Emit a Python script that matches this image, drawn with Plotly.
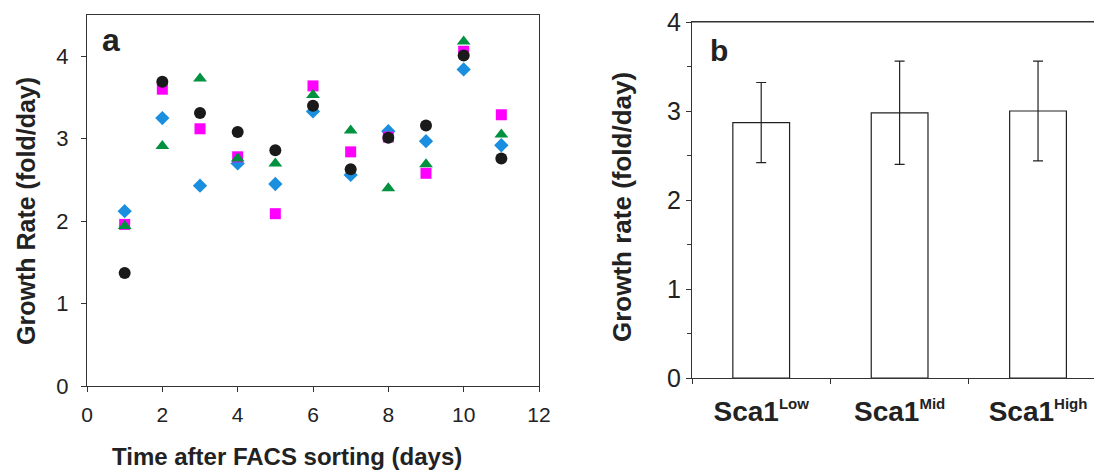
import plotly.graph_objects as go

# ---- Panel a data ----
days = [1, 2, 3, 4, 5, 6, 7, 8, 9, 10, 11]
series_diamond = [2.12, 3.25, 2.43, 2.70, 2.45, 3.33, 2.56, 3.09, 2.97, 3.84, 2.92]
series_square = [1.96, 3.60, 3.12, 2.78, 2.09, 3.64, 2.84, 3.02, 2.58, 4.06, 3.29]
series_triangle = [1.94, 2.91, 3.73, 2.76, 2.70, 3.53, 3.10, 2.40, 2.69, 4.18, 3.05]
series_circle = [1.37, 3.69, 3.31, 3.08, 2.86, 3.40, 2.63, 3.01, 3.16, 4.01, 2.76]

x_ticks_a = [0, 2, 4, 6, 8, 10, 12]
y_ticks_a = [0, 1, 2, 3, 4]

# ---- Panel b data ----
sup_style = "<sup><span style='font-size:15px'>{}</span></sup>"
categories = ["Sca1" + sup_style.format("Low"),
              "Sca1" + sup_style.format("Mid"),
              "Sca1" + sup_style.format("High")]
mean_rate = [2.87, 2.98, 3.00]
err_rate = [0.45, 0.58, 0.56]
y_ticks_b = [0, 1, 2, 3, 4]

W, H = 1102, 474
OFF = 8  # page body margin
FONT = "Liberation Sans, Arial, sans-serif"


def px_x(p):
    return (p - OFF) / W


def px_y(p):
    return 1 - (p - OFF) / H


fig = go.Figure()

for ys, sym, col, size in [
    (series_diamond, "diamond", "#1a8fe0", 11),
    (series_square, "square", "#ff00ff", 11),
    (series_triangle, "triangle-up", "#00923f", 12),
    (series_circle, "circle", "#1a1a1a", 12),
]:
    fig.add_trace(go.Scatter(
        x=days, y=ys, mode="markers", xaxis="x", yaxis="y",
        marker=dict(symbol=sym, color=col, size=size, line=dict(width=0)),
        showlegend=False,
    ))

fig.add_trace(go.Bar(
    x=categories, y=mean_rate, xaxis="x2", yaxis="y2", width=0.41,
    marker=dict(color="white", line=dict(color="#222", width=1.2)),
    error_y=dict(type="data", array=err_rate, visible=True, color="#222",
                 thickness=1.2, width=5),
    showlegend=False,
))

axis_common = dict(showgrid=False, zeroline=False, showline=True,
                   linecolor="#333", linewidth=1.2, ticks="outside",
                   tickcolor="#333", tickwidth=1.2, automargin=False,
                   ticklabeloverflow="allow")

fig.update_layout(
    width=W, height=H,
    margin=dict(l=0, r=0, t=0, b=0),
    paper_bgcolor="white", plot_bgcolor="white",
    font=dict(family=FONT, color="#222"),
    xaxis=dict(domain=[px_x(87), px_x(539)], range=[0, 12], tickvals=x_ticks_a,
               ticklen=5, mirror=True, tickfont=dict(size=21),
               ticklabelstandoff=5, anchor="y", **axis_common),
    yaxis=dict(domain=[px_y(386), px_y(15)], range=[0, 4.5], tickvals=y_ticks_a,
               ticklen=5, mirror=True, tickfont=dict(size=22),
               ticklabelstandoff=8, anchor="x", **axis_common),
    xaxis2=dict(domain=[px_x(692), 1.0], range=[-0.5, 2.52], type="category",
                tickson="boundaries", ticklen=5, mirror=True,
                tickfont=dict(size=28, family=FONT, weight="bold"),
                ticklabelstandoff=8, anchor="y2", **axis_common),
    yaxis2=dict(domain=[px_y(378), px_y(22)], range=[0, 4], tickvals=y_ticks_b,
                ticklen=5, tickfont=dict(size=25),
                minor=dict(dtick=0.5, ticks="outside", ticklen=4, tickcolor="#333"),
                anchor="x2", **axis_common),
    shapes=[
        dict(type="line", xref="x2 domain", yref="y2 domain", x0=0, x1=1, y0=1, y1=1,
             line=dict(color="#333", width=1.2), layer="above"),
    ],
    annotations=[
        dict(text="<b>a</b>", x=px_x(111), y=px_y(40), xref="paper", yref="paper",
             showarrow=False, font=dict(size=32), xanchor="center", yanchor="middle"),
        dict(text="<b>b</b>", x=px_x(719), y=px_y(50), xref="paper", yref="paper",
             showarrow=False, font=dict(size=30), xanchor="center", yanchor="middle"),
        dict(text="<b>Growth Rate (fold/day)</b>", x=px_x(26), y=px_y(211),
             xref="paper", yref="paper", showarrow=False, textangle=-90,
             font=dict(size=25), xanchor="center", yanchor="middle"),
        dict(text="<b>Growth rate (fold/day)</b>", x=px_x(622), y=px_y(207),
             xref="paper", yref="paper", showarrow=False, textangle=-90,
             font=dict(size=26), xanchor="center", yanchor="middle"),
        dict(text="<b>Time after FACS sorting (days)</b>", x=px_x(287), y=px_y(456),
             xref="paper", yref="paper", showarrow=False,
             font=dict(size=24), xanchor="center", yanchor="middle"),
    ],
)

fig.write_html("out.html")
